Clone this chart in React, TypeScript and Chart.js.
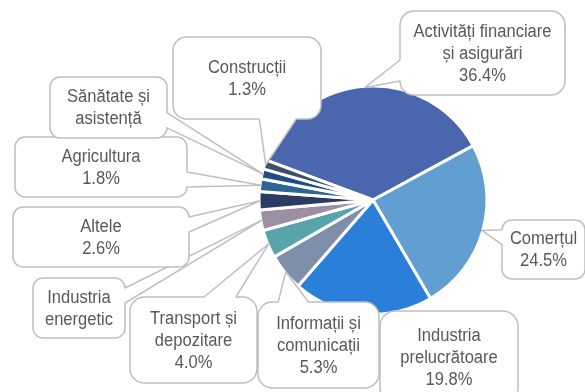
import { useEffect, useRef } from "react";
import { Chart, registerables } from "chart.js";

Chart.register(...registerables);

// ---- data ----
const categories = [
  "Activități financiare și asigurări",
  "Comerțul",
  "Industria prelucrătoare",
  "Informații și comunicații",
  "Transport și depozitare",
  "Industria energetică",
  "Altele",
  "Agricultura",
  "Sănătate și asistență socială",
  "Construcții",
];
const shares = [36.4, 24.5, 19.8, 5.3, 4.0, 2.9, 2.6, 1.8, 1.4, 1.3];
const labelLines = [
  ["Activități financiare", "și asigurări"],
  ["Comerțul"],
  ["Industria", "prelucrătoare"],
  ["Informații și", "comunicații"],
  ["Transport și", "depozitare"],
  ["Industria", "energetic"],
  ["Altele"],
  ["Agricultura"],
  ["Sănătate și", "asistență"],
  ["Construcții"],
];
const showValue = [true, true, true, true, true, false, true, true, false, true];

// ---- styles / layout ----
const sliceColors = [
  "#4a66ae",
  "#619fd2",
  "#2a7fd9",
  "#7e8fab",
  "#57a5ab",
  "#9c8fa4",
  "#2c3a66",
  "#2e6593",
  "#1f4e86",
  "#3c5068",
];
// callout boxes: x, y, w, h, wedge
const boxes: [number, number, number, number, boolean][] = [
  [400, 11, 165, 84, true],
  [502, 220, 83, 59, true],
  [380, 311, 138, 92, false],
  [258, 302, 121, 86, true],
  [130, 297, 127, 86, true],
  [33, 278, 92, 60, true],
  [13, 207, 176, 60, true],
  [15, 137, 172, 60, true],
  [50, 77, 117, 61, true],
  [173, 37, 148, 82, true],
];
const drawOrder = [0, 1, 2, 3, 4, 5, 6, 7, 8, 9];

function calloutPath(
  ctx: CanvasRenderingContext2D,
  x: number,
  y: number,
  w: number,
  h: number,
  tx: number,
  ty: number,
  wedge: boolean
) {
  const r = Math.min(w, h) * 0.16667;
  const l = x, t = y, rt = x + w, b = y + h;
  const hc = x + w / 2, vc = y + h / 2;
  const dx = tx - hc, dy = ty - vc;
  const dq = (dx * h) / w;
  const vertical = Math.abs(dy) - Math.abs(dq) > 0;
  const x1 = l + (w * (dx > 0 ? 7 : 2)) / 12;
  const x2 = l + (w * (dx > 0 ? 10 : 5)) / 12;
  const y1 = t + (h * (dy > 0 ? 7 : 2)) / 12;
  const y2 = t + (h * (dy > 0 ? 10 : 5)) / 12;
  const inside = tx >= l && tx <= rt && ty >= t && ty <= b;
  const side = !wedge || inside ? "" : vertical ? (dy < 0 ? "top" : "bottom") : dx < 0 ? "left" : "right";
  ctx.beginPath();
  ctx.moveTo(l + r, t);
  if (side === "top") { ctx.lineTo(x1, t); ctx.lineTo(tx, ty); ctx.lineTo(x2, t); }
  ctx.lineTo(rt - r, t);
  ctx.arcTo(rt, t, rt, t + r, r);
  if (side === "right") { ctx.lineTo(rt, y1); ctx.lineTo(tx, ty); ctx.lineTo(rt, y2); }
  ctx.lineTo(rt, b - r);
  ctx.arcTo(rt, b, rt - r, b, r);
  if (side === "bottom") { ctx.lineTo(x2, b); ctx.lineTo(tx, ty); ctx.lineTo(x1, b); }
  ctx.lineTo(l + r, b);
  ctx.arcTo(l, b, l, b - r, r);
  if (side === "left") { ctx.lineTo(l, y2); ctx.lineTo(tx, ty); ctx.lineTo(l, y1); }
  ctx.lineTo(l, t + r);
  ctx.arcTo(l, t, l + r, t, r);
  ctx.closePath();
}

const calloutPlugin = {
  id: "callouts",
  afterDatasetsDraw(chart: any) {
    const ctx: CanvasRenderingContext2D = chart.ctx;
    const meta = chart.getDatasetMeta(0);
    ctx.save();
    for (const i of drawOrder) {
      const arc = meta.data[i] as any;
      const p = arc.getProps(["x", "y", "startAngle", "endAngle", "outerRadius"], true);
      const mid = (p.startAngle + p.endAngle) / 2;
      const tx = p.x + Math.cos(mid) * p.outerRadius * 0.99;
      const ty = p.y + Math.sin(mid) * p.outerRadius * 0.99;
      const [bx, by, bw, bh, wedge] = boxes[i];
      calloutPath(ctx, bx, by, bw, bh, tx, ty, wedge);
      ctx.fillStyle = "#ffffff";
      ctx.fill();
      ctx.strokeStyle = "#bfbfbf";
      ctx.lineWidth = 1.5;
      ctx.lineJoin = "round";
      ctx.stroke();

      const lines = [...labelLines[i]];
      if (showValue[i]) lines.push(shares[i].toFixed(1) + "%");
      ctx.fillStyle = "#595959";
      ctx.font = '18px "Liberation Sans Narrow", "Liberation Sans", Arial, sans-serif';
      ctx.textAlign = "center";
      ctx.textBaseline = "middle";
      const lh = 22;
      const cx = bx + bw / 2;
      const cy = by + bh / 2 + 1;
      const start = cy - ((lines.length - 1) * lh) / 2;
      lines.forEach((s, k) => {
        ctx.save();
        ctx.translate(cx, start + k * lh);
        ctx.scale(0.92, 1);
        ctx.fillText(s, 0, 0);
        ctx.restore();
      });
    }
    ctx.restore();
  },
};

export default function App() {
  const ref = useRef<HTMLCanvasElement | null>(null);
  useEffect(() => {
    document.body.style.margin = "0";
    const canvas = ref.current;
    if (!canvas) return;
    const chart = new Chart(canvas, {
      type: "pie",
      data: {
        labels: categories,
        datasets: [
          {
            data: shares,
            backgroundColor: sliceColors,
            borderColor: "#ffffff",
            borderWidth: 3,
          },
        ],
      },
      options: {
        responsive: false,
        animation: false,
        rotation: -69.5,
        radius: 114,
        layout: { padding: { left: 259, right: 98, top: 86, bottom: 78 } },
        plugins: {
          legend: { display: false },
          tooltip: { enabled: false },
          title: { display: false },
        },
      },
      plugins: [calloutPlugin],
    });
    return () => chart.destroy();
  }, []);
  return (
    <div style={{ width: 585, height: 392, background: "#ffffff" }}>
      <canvas ref={ref} width={585} height={392} style={{ display: "block" }} />
    </div>
  );
}
